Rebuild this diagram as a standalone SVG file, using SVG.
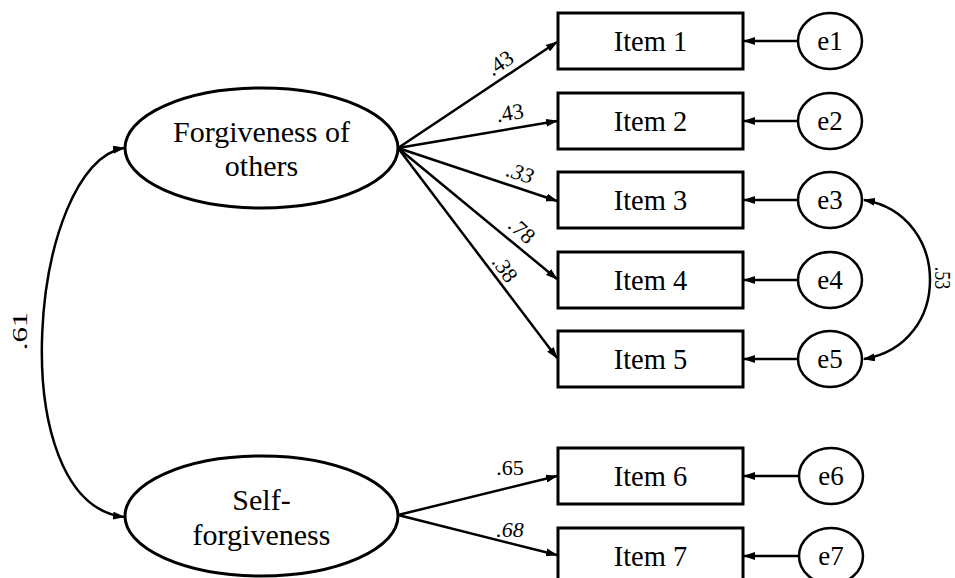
<svg xmlns="http://www.w3.org/2000/svg" width="955" height="578" viewBox="0 0 955 578">
<defs>
<style>
.lat{fill:#fff;stroke:#000;stroke-width:3}
.box{fill:#fff;stroke:#000;stroke-width:3}
.err{fill:#fff;stroke:#000;stroke-width:2.5}
.c{fill:none;stroke:#000;stroke-width:2.5;marker-end:url(#ah)}
.d{fill:none;stroke:#000;stroke-width:2.5;marker-start:url(#ah);marker-end:url(#ah)}
</style>
<marker id="ah" viewBox="0 0 12 8" refX="11" refY="4" markerWidth="12" markerHeight="8" markerUnits="userSpaceOnUse" orient="auto-start-reverse">
<path d="M0,0 L12,4 L0,8 z" fill="#000"/>
</marker>
</defs>
<rect width="955" height="578" fill="#fff"/>

<g id="connectors">
<path class="c" d="M398,148 L557,42"/>
<path class="c" d="M398,148 L557,121"/>
<path class="c" d="M398,148 L557,201"/>
<path class="c" d="M398,148 L557,279"/>
<path class="c" d="M398,148 L557,358"/>
<path class="c" d="M398,515 L557,476"/>
<path class="c" d="M398,515 L557,555"/>
<path class="c" d="M798,41 L744,41"/>
<path class="c" d="M798,121 L744,121"/>
<path class="c" d="M798,200 L744,200"/>
<path class="c" d="M798,280 L744,280"/>
<path class="c" d="M798,359 L744,359"/>
<path class="c" d="M800,476 L744,476"/>
<path class="c" d="M800,556 L744,556"/>
<path class="d" d="M124,148 C30,163 0,502 124,517"/>
<path class="d" d="M864,200 C952,215 952,345 864,359"/>
<text font-family="Liberation Serif" font-size="22" text-anchor="middle" transform="translate(27,331) rotate(-90) scale(1.4,1)">.61</text>
<text font-family="Liberation Serif" font-size="23" text-anchor="middle" transform="translate(935,278) rotate(90) scale(0.78,1)">.53</text>
<text font-family="Liberation Serif" font-size="22" text-anchor="middle" transform="translate(504,69) rotate(-34)">.43</text>
<text font-family="Liberation Serif" font-size="22" text-anchor="middle" transform="translate(511,120) rotate(-9)">.43</text>
<text font-family="Liberation Serif" font-size="22" font-style="italic" text-anchor="middle" transform="translate(518,180) rotate(18)">.33</text>
<text font-family="Liberation Serif" font-size="22" text-anchor="middle" transform="translate(517,236) rotate(42)">.78</text>
<text font-family="Liberation Serif" font-size="22" text-anchor="middle" transform="translate(499,273) rotate(55)">.38</text>
<text font-family="Liberation Serif" font-size="22" text-anchor="middle" x="510" y="475">.65</text>
<text font-family="Liberation Serif" font-size="22" font-style="italic" text-anchor="middle" x="510" y="537">.68</text>
</g>

<g id="forgiveness-others">
<ellipse class="lat" cx="261.5" cy="148" rx="136.5" ry="60"/>
<text font-family="Liberation Serif" font-size="30" text-anchor="middle" x="261.5" y="142">Forgiveness of</text>
<text font-family="Liberation Serif" font-size="30" text-anchor="middle" x="261.5" y="176">others</text>
</g>
<g id="self-forgiveness">
<ellipse class="lat" cx="261.5" cy="516" rx="136.5" ry="60"/>
<text font-family="Liberation Serif" font-size="30" text-anchor="middle" x="261.5" y="510">Self-</text>
<text font-family="Liberation Serif" font-size="30" text-anchor="middle" x="261.5" y="545">forgiveness</text>
</g>

<g id="item1"><rect class="box" x="558" y="13" width="185" height="56"/><text font-family="Liberation Serif" font-size="28.5" text-anchor="middle" x="650.5" y="51">Item 1</text></g>
<g id="item2"><rect class="box" x="558" y="93" width="185" height="56"/><text font-family="Liberation Serif" font-size="28.5" text-anchor="middle" x="650.5" y="131">Item 2</text></g>
<g id="item3"><rect class="box" x="558" y="172" width="185" height="56"/><text font-family="Liberation Serif" font-size="28.5" text-anchor="middle" x="650.5" y="210">Item 3</text></g>
<g id="item4"><rect class="box" x="558" y="252" width="185" height="56"/><text font-family="Liberation Serif" font-size="28.5" text-anchor="middle" x="650.5" y="290">Item 4</text></g>
<g id="item5"><rect class="box" x="558" y="331" width="185" height="56"/><text font-family="Liberation Serif" font-size="28.5" text-anchor="middle" x="650.5" y="369">Item 5</text></g>
<g id="item6"><rect class="box" x="558" y="448" width="185" height="56"/><text font-family="Liberation Serif" font-size="28.5" text-anchor="middle" x="650.5" y="486">Item 6</text></g>
<g id="item7"><rect class="box" x="558" y="528" width="185" height="56"/><text font-family="Liberation Serif" font-size="28.5" text-anchor="middle" x="650.5" y="566">Item 7</text></g>

<g id="e1"><ellipse class="err" cx="830" cy="41" rx="32" ry="28"/><text font-family="Liberation Serif" font-size="27" text-anchor="middle" x="830" y="50">e1</text></g>
<g id="e2"><ellipse class="err" cx="830" cy="121" rx="32" ry="28"/><text font-family="Liberation Serif" font-size="27" text-anchor="middle" x="830" y="130">e2</text></g>
<g id="e3"><ellipse class="err" cx="830" cy="200" rx="32" ry="28"/><text font-family="Liberation Serif" font-size="27" text-anchor="middle" x="830" y="209">e3</text></g>
<g id="e4"><ellipse class="err" cx="830" cy="280" rx="32" ry="28"/><text font-family="Liberation Serif" font-size="27" text-anchor="middle" x="830" y="289">e4</text></g>
<g id="e5"><ellipse class="err" cx="830" cy="359" rx="32" ry="28"/><text font-family="Liberation Serif" font-size="27" text-anchor="middle" x="830" y="368">e5</text></g>
<g id="e6"><ellipse class="err" cx="831" cy="476" rx="32" ry="28"/><text font-family="Liberation Serif" font-size="27" text-anchor="middle" x="831" y="485">e6</text></g>
<g id="e7"><ellipse class="err" cx="831" cy="556" rx="32" ry="28"/><text font-family="Liberation Serif" font-size="27" text-anchor="middle" x="831" y="565">e7</text></g>
</svg>
